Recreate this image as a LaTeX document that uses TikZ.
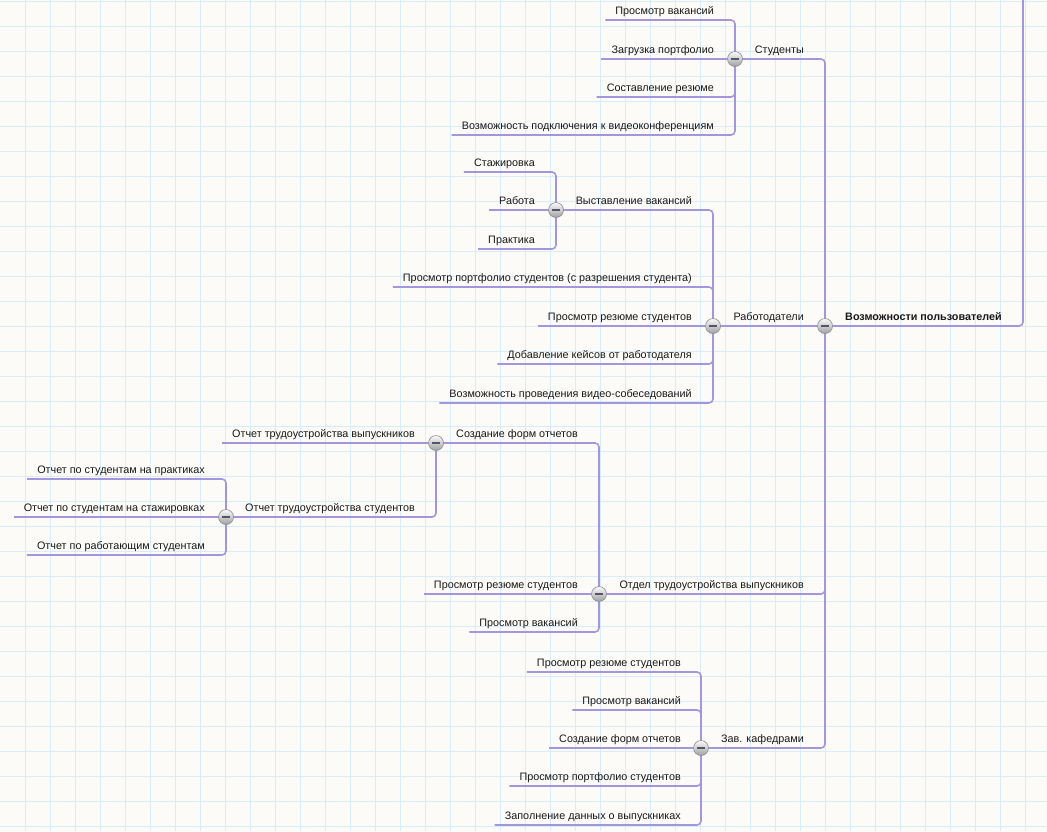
\documentclass[tikz,border=0pt]{standalone}
\usepackage{fontspec}
\setmainfont{Liberation Sans}
\definecolor{gridc}{RGB}{216,236,250}
\definecolor{linkc}{RGB}{163,150,218}
\definecolor{paper}{RGB}{252,251,248}
\definecolor{btnline}{RGB}{140,140,155}
\definecolor{btnminus}{RGB}{85,85,105}
\pgfdeclarelayer{paperlayer}
\pgfdeclarelayer{linklayer}
\pgfsetlayers{paperlayer,linklayer,main}
\tikzset{
  link/.style={draw=linkc, line width=1.6pt, rounded corners=4pt},
  item/.style={anchor=south east, inner xsep=10pt, inner ysep=5.5pt, text height=8pt, text depth=0pt,
    font=\fontsize{10.8}{13}\selectfont, text=black!90},
  rootitem/.style={item, anchor=south west, font=\fontsize{10.8}{13}\selectfont\bfseries},
  btn/.style={circle, minimum size=15pt, inner sep=0pt, draw=btnline, line width=0.6pt,
    top color=white!96!gray, bottom color=gray!75,
    path picture={\draw[btnminus, line width=1.5pt]
      ([xshift=-3.8pt]path picture bounding box.center) -- ([xshift=3.8pt]path picture bounding box.center);}},
}
\begin{document}
\begin{tikzpicture}[x=1pt,y=-1pt]
\useasboundingbox (0,0) rectangle (1047,831);
\begin{pgfonlayer}{paperlayer}
\fill[paper] (0,0) rectangle (1047,831);
\foreach \i in {1,...,41} \draw[gridc, line width=1pt] (25*\i,0) -- (25*\i,831);
\foreach \j in {0,...,33} \draw[gridc, line width=1pt] (0,25*\j+1.5) -- (1047,25*\j+1.5);
\end{pgfonlayer}

% buttons
\coordinate (top) at (1023,-4);
\node[btn] (R) at (825,326) {};
\node[btn] (S) at (735,59) {};
\node[btn] (W) at (713,326) {};
\node[btn] (V) at (556,210) {};
\node[btn] (O) at (599,594) {};
\node[btn] (C) at (436,443) {};
\node[btn] (T) at (226,517) {};
\node[btn] (Z) at (701,748) {};

% texts
\node[rootitem] (root) at (835,326) {Возможности пользователей};

\node[item] (st) at (814,59) {Студенты};
\node[item] (wt) at (814,326) {Работодатели};
\node[item] (ot) at (814,594) {Отдел трудоустройства выпускников};
\node[item] (zt) at (814,748) {Зав. кафедрами};

\node[item] (s1) at (724,20) {Просмотр вакансий};
\node[item] (s2) at (724,59) {Загрузка портфолио};
\node[item] (s3) at (724,97) {Составление резюме};
\node[item] (s4) at (724,135) {Возможность подключения к видеоконференциям};

\node[item] (vt) at (702,210) {Выставление вакансий};
\node[item] (w2) at (702,287) {Просмотр портфолио студентов (с разрешения студента)};
\node[item] (w3) at (702,326) {Просмотр резюме студентов};
\node[item] (w4) at (702,364) {Добавление кейсов от работодателя};
\node[item] (w5) at (702,403) {Возможность проведения видео-собеседований};

\node[item] (v1) at (545,172) {Стажировка};
\node[item] (v2) at (545,210) {Работа};
\node[item] (v3) at (545,249) {Практика};

\node[item] (ct) at (588,443) {Создание форм отчетов};
\node[item] (o2) at (588,594) {Просмотр резюме студентов};
\node[item] (o3) at (588,632) {Просмотр вакансий};

\node[item] (c1) at (425,443) {Отчет трудоустройства выпускников};
\node[item] (tt) at (425,517) {Отчет трудоустройства студентов};

\node[item] (t1) at (215,479) {Отчет по студентам на практиках};
\node[item] (t2) at (215,517) {Отчет по студентам на стажировках};
\node[item] (t3) at (215,555) {Отчет по работающим студентам};

\node[item] (z1) at (691,672) {Просмотр резюме студентов};
\node[item] (z2) at (691,710) {Просмотр вакансий};
\node[item] (z3) at (691,748) {Создание форм отчетов};
\node[item] (z4) at (691,786) {Просмотр портфолио студентов};
\node[item] (z5) at (691,825) {Заполнение данных о выпускниках};

% connectors
\begin{pgfonlayer}{linklayer}
\draw[link] (R.center) -| (top);
\draw[link] (S.center) -| (R.center);
\draw[link] (W.center) -- (R.center);
\draw[link] (O.center) -| (R.center);
\draw[link] (Z.center) -| (R.center);

\draw[link] (s1.south west) -| (S.center);
\draw[link] (s2.south west) -- (S.center);
\draw[link] (s3.south west) -| (S.center);
\draw[link] (s4.south west) -| (S.center);

\draw[link] (V.center) -| (W.center);
\draw[link] (w2.south west) -| (W.center);
\draw[link] (w3.south west) -- (W.center);
\draw[link] (w4.south west) -| (W.center);
\draw[link] (w5.south west) -| (W.center);

\draw[link] (v1.south west) -| (V.center);
\draw[link] (v2.south west) -- (V.center);
\draw[link] (v3.south west) -| (V.center);

\draw[link] (C.center) -| (O.center);
\draw[link] (o2.south west) -- (O.center);
\draw[link] (o3.south west) -| (O.center);

\draw[link] (c1.south west) -- (C.center);
\draw[link] (T.center) -| (C.center);

\draw[link] (t1.south west) -| (T.center);
\draw[link] (t2.south west) -- (T.center);
\draw[link] (t3.south west) -| (T.center);

\draw[link] (z1.south west) -| (Z.center);
\draw[link] (z2.south west) -| (Z.center);
\draw[link] (z3.south west) -- (Z.center);
\draw[link] (z4.south west) -| (Z.center);
\draw[link] (z5.south west) -| (Z.center);
\end{pgfonlayer}
\end{tikzpicture}
\end{document}
